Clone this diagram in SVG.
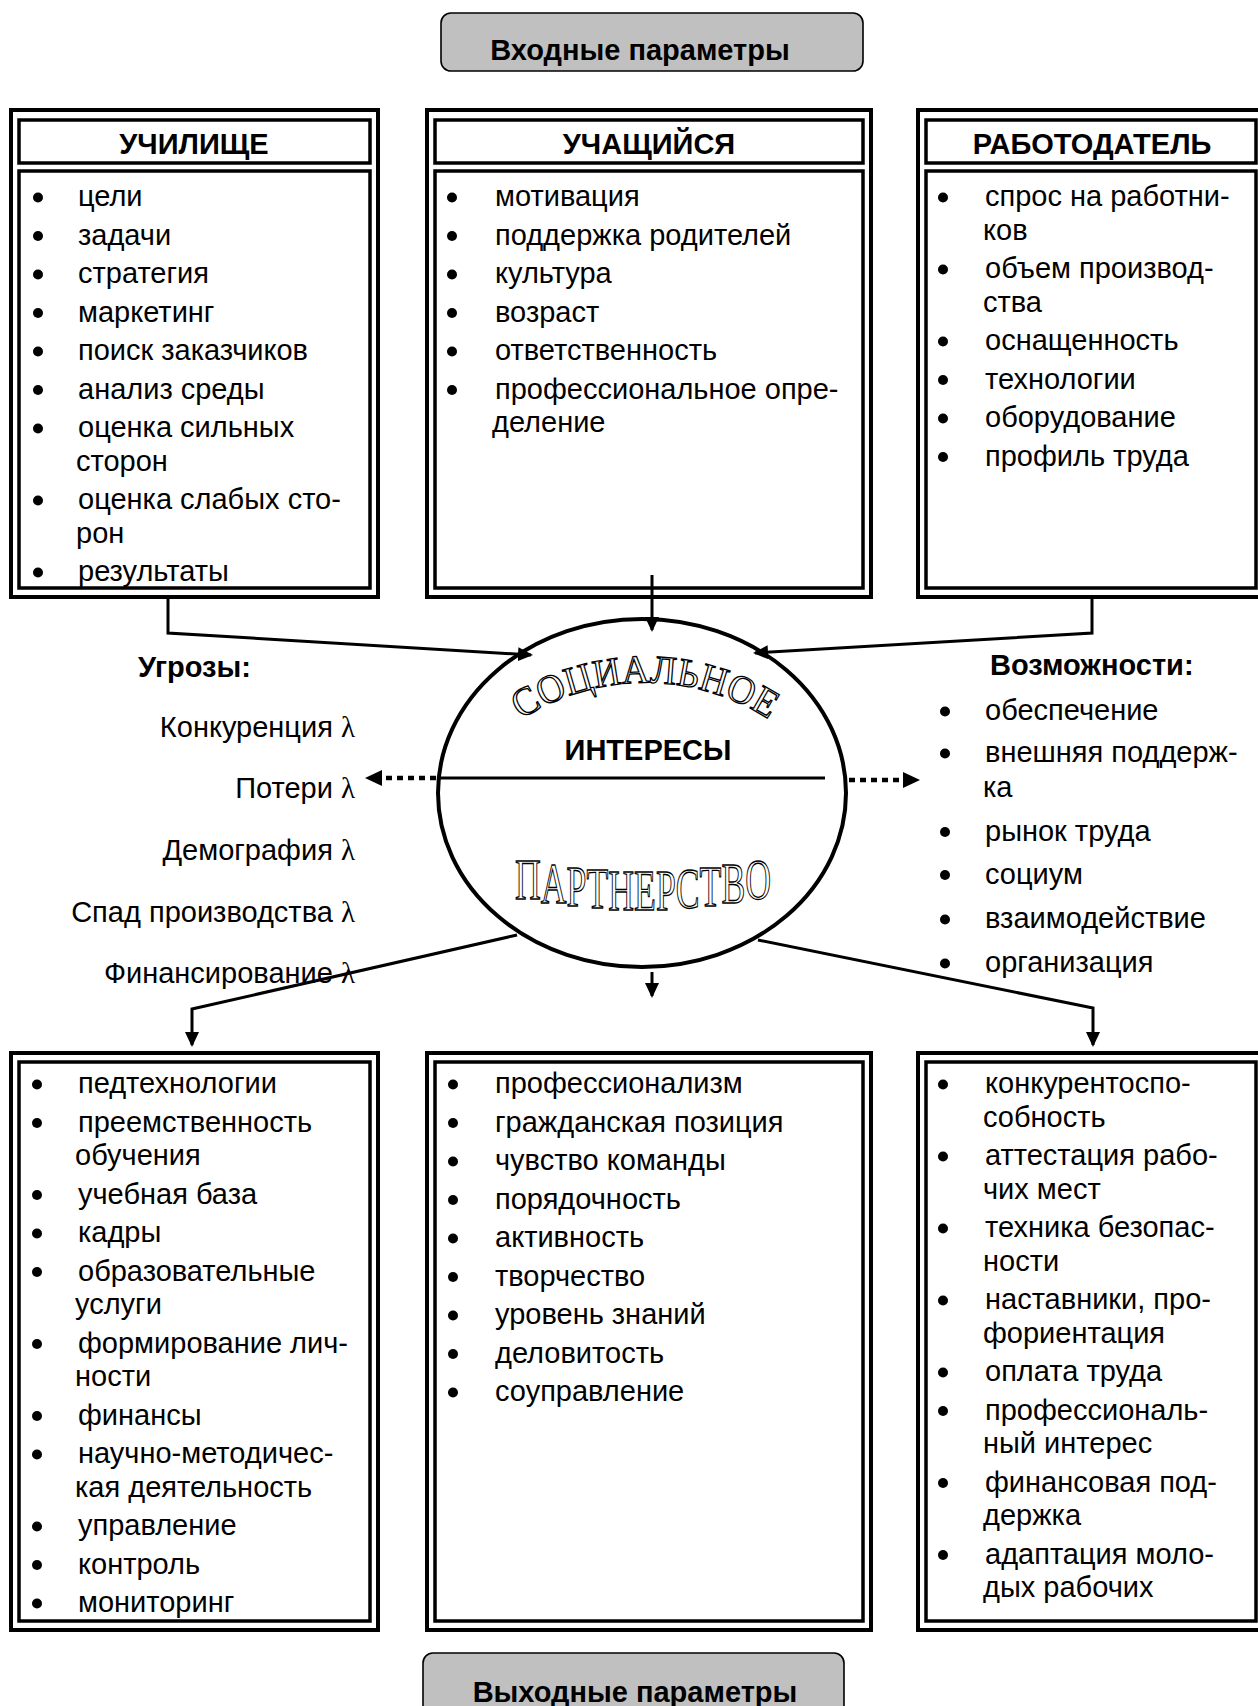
<svg xmlns="http://www.w3.org/2000/svg" width="1258" height="1706" viewBox="0 0 1258 1706">
<style>
.t{font-family:"Liberation Sans",Arial,sans-serif;font-size:29px;fill:#000}
.b{font-weight:bold}
.bul circle{fill:#000}
.lam{font-family:"Liberation Serif","Times New Roman",serif}
.outer{fill:#fff;stroke:#000;stroke-width:4}
.inner{fill:none;stroke:#000;stroke-width:3.5}
.pill{fill:#c0c0c0;stroke:#000;stroke-width:1.6}
.con{fill:none;stroke:#000;stroke-width:3}
.dot{fill:none;stroke:#000;stroke-width:4.5;stroke-dasharray:6 5}
.wa{font-family:"Liberation Serif","Times New Roman",serif;fill:#fff;stroke:#000;stroke-width:1.3}
</style>
<defs>
<marker id="ah" markerUnits="userSpaceOnUse" markerWidth="16" markerHeight="14" refX="13" refY="7" orient="auto"><path d="M0,0 L15,7 L0,14 z" fill="#000"/></marker>
<marker id="ahd" markerUnits="userSpaceOnUse" markerWidth="18" markerHeight="16" refX="0" refY="8" orient="auto"><path d="M0,0 L17,8 L0,16 z" fill="#000"/></marker>
<path id="arcTop" d="M 521,719.5 A 228 228 0 0 1 769,719.5"/>
</defs>

<g id="in-params">
<rect class="pill" x="441" y="13" width="422" height="58" rx="10"/>
<text class="t b" x="640" y="60" text-anchor="middle">Входные параметры</text>
</g>

<g id="uchilishche">
<rect class="outer" x="11" y="110" width="367" height="487"/>
<rect class="inner" x="19" y="120" width="351" height="43"/>
<rect class="inner" x="19" y="171" width="351" height="417"/>
<text class="t b" x="194" y="154" text-anchor="middle">УЧИЛИЩЕ</text>
<g class="bul">
<circle cx="38" cy="197.5" r="5"/><circle cx="38" cy="236" r="5"/><circle cx="38" cy="274.5" r="5"/><circle cx="38" cy="313" r="5"/><circle cx="38" cy="351.5" r="5"/><circle cx="38" cy="390" r="5"/><circle cx="38" cy="428.5" r="5"/><circle cx="38" cy="500.5" r="5"/><circle cx="38" cy="572.5" r="5"/>
</g>
<text class="t" x="78" y="206">цели</text>
<text class="t" x="78" y="244.5">задачи</text>
<text class="t" x="78" y="283">стратегия</text>
<text class="t" x="78" y="321.5">маркетинг</text>
<text class="t" x="78" y="360">поиск заказчиков</text>
<text class="t" x="78" y="398.5">анализ среды</text>
<text class="t" x="78" y="437">оценка сильных</text>
<text class="t" x="76" y="470.5">сторон</text>
<text class="t" x="78" y="509">оценка слабых сто-</text>
<text class="t" x="76" y="542.5">рон</text>
<text class="t" x="78" y="581">результаты</text>
</g>

<g id="uchashchiysya">
<rect class="outer" x="427" y="110" width="444" height="487"/>
<rect class="inner" x="435" y="120" width="428" height="43"/>
<rect class="inner" x="435" y="171" width="428" height="417"/>
<text class="t b" x="649" y="154" text-anchor="middle">УЧАЩИЙСЯ</text>
<g class="bul">
<circle cx="452" cy="197.5" r="5"/><circle cx="452" cy="236" r="5"/><circle cx="452" cy="274.5" r="5"/><circle cx="452" cy="313" r="5"/><circle cx="452" cy="351.5" r="5"/><circle cx="452" cy="390" r="5"/>
</g>
<text class="t" x="495" y="206">мотивация</text>
<text class="t" x="495" y="244.5">поддержка родителей</text>
<text class="t" x="495" y="283">культура</text>
<text class="t" x="495" y="321.5">возраст</text>
<text class="t" x="495" y="360">ответственность</text>
<text class="t" x="495" y="398.5">профессиональное опре-</text>
<text class="t" x="492" y="432">деление</text>
</g>

<g id="rabotodatel">
<rect class="outer" x="918" y="110" width="352" height="487"/>
<rect class="inner" x="926" y="120" width="330" height="43"/>
<rect class="inner" x="926" y="171" width="330" height="417"/>
<text class="t b" x="1092" y="154" text-anchor="middle">РАБОТОДАТЕЛЬ</text>
<g class="bul">
<circle cx="943" cy="197.5" r="5"/><circle cx="943" cy="269.5" r="5"/><circle cx="943" cy="341.5" r="5"/><circle cx="943" cy="380" r="5"/><circle cx="943" cy="418.5" r="5"/><circle cx="943" cy="457" r="5"/>
</g>
<text class="t" x="985" y="206">спрос на работни-</text>
<text class="t" x="983" y="239.5">ков</text>
<text class="t" x="985" y="278">объем производ-</text>
<text class="t" x="983" y="311.5">ства</text>
<text class="t" x="985" y="350">оснащенность</text>
<text class="t" x="985" y="388.5">технологии</text>
<text class="t" x="985" y="427">оборудование</text>
<text class="t" x="985" y="465.5">профиль труда</text>
</g>

<g id="interests">
<ellipse cx="642" cy="793" rx="204" ry="174" fill="#fff" stroke="#000" stroke-width="4"/>
<line x1="438" y1="778" x2="825" y2="778" stroke="#000" stroke-width="3"/>
<text class="t b" x="648" y="760" text-anchor="middle">ИНТЕРЕСЫ</text>
<text class="wa" font-size="40"><textPath href="#arcTop" startOffset="50%" text-anchor="middle" textLength="262" lengthAdjust="spacingAndGlyphs">СОЦИАЛЬНОЕ</textPath></text>
<text class="wa" font-size="56" x="515" y="898.5 902.8 906 908.3 909.6 910 909.6 908.3 906 902.8 898.5" textLength="256" lengthAdjust="spacingAndGlyphs">ПАРТНЕРСТВО</text>
</g>

<g id="threats">
<text class="t b" x="138" y="677">Угрозы:</text>
<text class="t" x="355" y="737" text-anchor="end">Конкуренция <tspan class="lam">λ</tspan></text>
<text class="t" x="355" y="798" text-anchor="end">Потери <tspan class="lam">λ</tspan></text>
<text class="t" x="355" y="860" text-anchor="end">Демография <tspan class="lam">λ</tspan></text>
<text class="t" x="355" y="922" text-anchor="end">Спад производства <tspan class="lam">λ</tspan></text>
<text class="t" x="355" y="983" text-anchor="end">Финансирование <tspan class="lam">λ</tspan></text>
</g>

<g id="opportunities">
<text class="t b" x="990" y="675">Возможности:</text>
<g class="bul">
<circle cx="945" cy="711.5" r="5"/><circle cx="945" cy="753.5" r="5"/><circle cx="945" cy="832" r="5"/><circle cx="945" cy="875" r="5"/><circle cx="945" cy="919.5" r="5"/><circle cx="945" cy="963.5" r="5"/>
</g>
<text class="t" x="985" y="720">обеспечение</text>
<text class="t" x="985" y="762">внешняя поддерж-</text>
<text class="t" x="983" y="797">ка</text>
<text class="t" x="985" y="841">рынок труда</text>
<text class="t" x="985" y="884">социум</text>
<text class="t" x="985" y="928">взаимодействие</text>
<text class="t" x="985" y="972">организация</text>
</g>

<g id="out-school">
<rect class="outer" x="11" y="1053" width="367" height="577"/>
<rect class="inner" x="19" y="1062" width="351" height="559"/>
<g class="bul">
<circle cx="37" cy="1084.5" r="5"/><circle cx="37" cy="1123" r="5"/><circle cx="37" cy="1195" r="5"/><circle cx="37" cy="1233.5" r="5"/><circle cx="37" cy="1272" r="5"/><circle cx="37" cy="1344" r="5"/><circle cx="37" cy="1416" r="5"/><circle cx="37" cy="1454.5" r="5"/><circle cx="37" cy="1526.5" r="5"/><circle cx="37" cy="1565" r="5"/><circle cx="37" cy="1603.5" r="5"/>
</g>
<text class="t" x="78" y="1093">педтехнологии</text>
<text class="t" x="78" y="1131.5">преемственность</text>
<text class="t" x="75" y="1165">обучения</text>
<text class="t" x="78" y="1203.5">учебная база</text>
<text class="t" x="78" y="1242">кадры</text>
<text class="t" x="78" y="1280.5">образовательные</text>
<text class="t" x="75" y="1314">услуги</text>
<text class="t" x="78" y="1352.5">формирование лич-</text>
<text class="t" x="75" y="1386">ности</text>
<text class="t" x="78" y="1424.5">финансы</text>
<text class="t" x="78" y="1463">научно-методичес-</text>
<text class="t" x="75" y="1496.5">кая деятельность</text>
<text class="t" x="78" y="1535">управление</text>
<text class="t" x="78" y="1573.5">контроль</text>
<text class="t" x="78" y="1612">мониторинг</text>
</g>

<g id="out-student">
<rect class="outer" x="427" y="1053" width="444" height="577"/>
<rect class="inner" x="435" y="1062" width="428" height="559"/>
<g class="bul">
<circle cx="453" cy="1084.5" r="5"/><circle cx="453" cy="1123" r="5"/><circle cx="453" cy="1161.5" r="5"/><circle cx="453" cy="1200" r="5"/><circle cx="453" cy="1238.5" r="5"/><circle cx="453" cy="1277" r="5"/><circle cx="453" cy="1315.5" r="5"/><circle cx="453" cy="1354" r="5"/><circle cx="453" cy="1392.5" r="5"/>
</g>
<text class="t" x="495" y="1093">профессионализм</text>
<text class="t" x="495" y="1131.5">гражданская позиция</text>
<text class="t" x="495" y="1170">чувство команды</text>
<text class="t" x="495" y="1208.5">порядочность</text>
<text class="t" x="495" y="1247">активность</text>
<text class="t" x="495" y="1285.5">творчество</text>
<text class="t" x="495" y="1324">уровень знаний</text>
<text class="t" x="495" y="1362.5">деловитость</text>
<text class="t" x="495" y="1401">соуправление</text>
</g>

<g id="out-employer">
<rect class="outer" x="918" y="1053" width="352" height="577"/>
<rect class="inner" x="926" y="1062" width="330" height="559"/>
<g class="bul">
<circle cx="943" cy="1084.5" r="5"/><circle cx="943" cy="1156.5" r="5"/><circle cx="943" cy="1228.5" r="5"/><circle cx="943" cy="1300.5" r="5"/><circle cx="943" cy="1372.5" r="5"/><circle cx="943" cy="1411" r="5"/><circle cx="943" cy="1483" r="5"/><circle cx="943" cy="1555" r="5"/>
</g>
<text class="t" x="985" y="1093">конкурентоспо-</text>
<text class="t" x="983" y="1126.5">собность</text>
<text class="t" x="985" y="1165">аттестация рабо-</text>
<text class="t" x="983" y="1198.5">чих мест</text>
<text class="t" x="985" y="1237">техника безопас-</text>
<text class="t" x="983" y="1270.5">ности</text>
<text class="t" x="985" y="1309">наставники, про-</text>
<text class="t" x="983" y="1342.5">фориентация</text>
<text class="t" x="985" y="1381">оплата труда</text>
<text class="t" x="985" y="1419.5">профессиональ-</text>
<text class="t" x="983" y="1453">ный интерес</text>
<text class="t" x="985" y="1491.5">финансовая под-</text>
<text class="t" x="983" y="1525">держка</text>
<text class="t" x="985" y="1563.5">адаптация моло-</text>
<text class="t" x="983" y="1597">дых рабочих</text>
</g>

<g id="out-params">
<rect class="pill" x="423" y="1653" width="421" height="70" rx="10"/>
<text class="t b" x="635" y="1702" text-anchor="middle">Выходные параметры</text>
</g>

<g id="connectors">
<path class="con" d="M168,597 L168,633 L531,655" marker-end="url(#ah)"/>
<path class="con" d="M652,575 L652,630" marker-end="url(#ah)"/>
<path class="con" d="M1092,597 L1092,633 L755,653" marker-end="url(#ah)"/>
<path class="con" d="M517,935 L192,1009 L192,1045" marker-end="url(#ah)"/>
<path class="con" d="M652,972 L652,996" marker-end="url(#ah)"/>
<path class="con" d="M758,940 L1093,1008 L1093,1045" marker-end="url(#ah)"/>
<path class="dot" d="M436,778 L382,778" marker-end="url(#ahd)"/>
<path class="dot" d="M849,780 L903,780" marker-end="url(#ahd)"/>
</g>
</svg>
